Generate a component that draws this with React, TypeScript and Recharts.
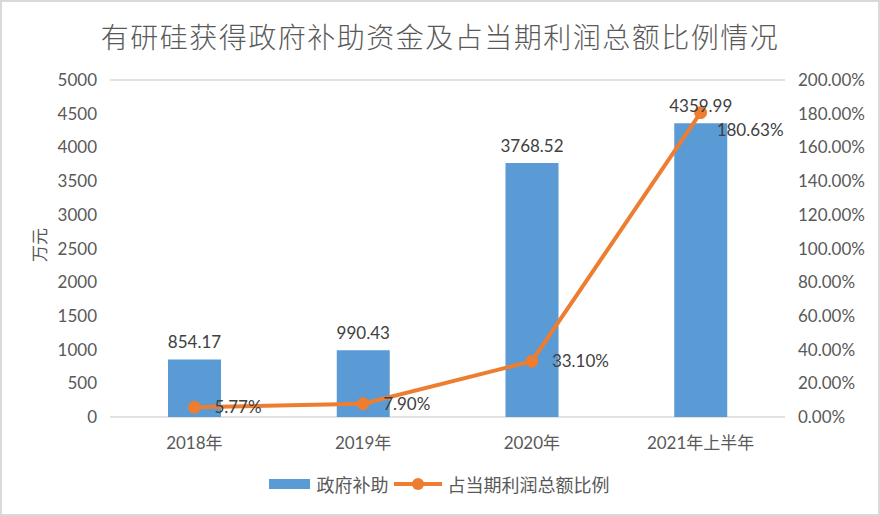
import React from 'react';
import {
  ComposedChart,
  Bar,
  Line,
  XAxis,
  YAxis,
  CartesianGrid,
  LabelList,
  Legend,
  Label,
} from 'recharts';

const years = ['2018年', '2019年', '2020年', '2021年上半年'];
const subsidy = [854.17, 990.43, 3768.52, 4359.99];
const ratio = [5.77, 7.9, 33.1, 180.63];
const leftTicks = [0, 500, 1000, 1500, 2000, 2500, 3000, 3500, 4000, 4500, 5000];
const rightTicks = [0, 20, 40, 60, 80, 100, 120, 140, 160, 180, 200];

const data = years.map((year, i) => ({ year, subsidy: subsidy[i], ratio: ratio[i] }));

const FONT = "Lato, 'Noto Sans CJK SC', sans-serif";
const CJK = "'Noto Sans CJK SC', sans-serif";
const BLUE = '#5B9BD5';
const ORANGE = '#ED7D31';
const TEXT = '#595959';

const renderRatioLabel = (props: any) => {
  const { x, y, value, index } = props;
  const last = index === 3;
  return (
    <text
      x={x + (last ? 16 : 20)}
      y={y + (last ? 17 : 0)}
      dy="0.35em"
      fill="#404040"
      fontSize={17}
      fontFamily={FONT}
    >
      {Number(value).toFixed(2)}%
    </text>
  );
};

const renderLegend = () => (
  <div
    style={{
      height: 24,
      display: 'flex',
      alignItems: 'center',
      justifyContent: 'center',
      fontFamily: CJK,
      fontSize: 18,
      color: TEXT,
      paddingRight: 2,
    }}
  >
    <span style={{ display: 'inline-block', width: 41, height: 10, background: BLUE, marginRight: 7 }} />
    <span style={{ marginRight: 5 }}>政府补助</span>
    <svg width={48} height={14} style={{ marginRight: 6 }}>
      <line x1={0} y1={7} x2={48} y2={7} stroke={ORANGE} strokeWidth={4} />
      <circle cx={24} cy={7} r={6} fill={ORANGE} />
    </svg>
    <span>占当期利润总额比例</span>
  </div>
);

export default function App() {
  return (
    <div
      style={{
        position: 'absolute',
        left: 0,
        top: 0,
        width: 880,
        height: 516,
        background: '#fff',
        boxSizing: 'border-box',
        border: '2px solid #d9d9d9',
      }}
    >
      <div
        style={{
          position: 'absolute',
          left: 0,
          right: 0,
          top: 15,
          textAlign: 'center',
          fontFamily: CJK,
          fontWeight: 300,
          fontSize: 28,
          letterSpacing: 1.5,
          color: TEXT,
          lineHeight: '38px',
        }}
      >
        有研硅获得政府补助资金及占当期利润总额比例情况
      </div>
      <div style={{ position: 'absolute', left: -2, top: -2 }}>
        <ComposedChart
          width={880}
          height={516}
          data={data}
          margin={{ top: 80, right: 0, bottom: 45, left: 0 }}
        >
          <CartesianGrid vertical={false} stroke="#D9D9D9" strokeWidth={1.5} />
          <XAxis
            dataKey="year"
            height={30}
            tickLine={false}
            axisLine={false}
            tickMargin={14}
            tick={{ fill: TEXT, fontSize: 17, fontFamily: FONT }}
          />
          <YAxis
            yAxisId="left"
            width={110}
            domain={[0, 5000]}
            ticks={leftTicks}
            interval={0}
            tickLine={false}
            axisLine={false}
            tickSize={0}
            tickMargin={13}
            tick={{ fill: TEXT, fontSize: 17, fontFamily: FONT }}
          >
            <Label
              content={() => (
                <text
                  x={40}
                  y={245}
                  transform="rotate(-90 40 245)"
                  textAnchor="middle"
                  dy="0.35em"
                  fill={TEXT}
                  fontSize={17}
                  fontFamily={CJK}
                >
                  万元
                </text>
              )}
            />
          </YAxis>
          <YAxis
            yAxisId="right"
            orientation="right"
            width={95}
            domain={[0, 200]}
            ticks={rightTicks}
            interval={0}
            tickLine={false}
            axisLine={false}
            tickSize={0}
            tickMargin={13}
            tickFormatter={(v: number) => `${v.toFixed(2)}%`}
            tick={{ fill: TEXT, fontSize: 17, fontFamily: FONT }}
          />
          <Legend verticalAlign="bottom" content={renderLegend} wrapperStyle={{ bottom: 20 }} />
          <Bar
            yAxisId="left"
            dataKey="subsidy"
            name="政府补助"
            fill={BLUE}
            barSize={53}
            isAnimationActive={false}
          >
            <LabelList
              dataKey="subsidy"
              position="top"
              offset={11}
              fill="#404040"
              fontSize={17}
              fontFamily={FONT}
              formatter={(v: any) => Number(v).toFixed(2)}
            />
          </Bar>
          <Line
            yAxisId="right"
            dataKey="ratio"
            name="占当期利润总额比例"
            stroke={ORANGE}
            strokeWidth={4}
            dot={{ r: 6, fill: ORANGE, stroke: ORANGE, strokeWidth: 1 }}
            activeDot={false}
            isAnimationActive={false}
          >
            <LabelList dataKey="ratio" content={renderRatioLabel} />
          </Line>
        </ComposedChart>
      </div>
    </div>
  );
}
